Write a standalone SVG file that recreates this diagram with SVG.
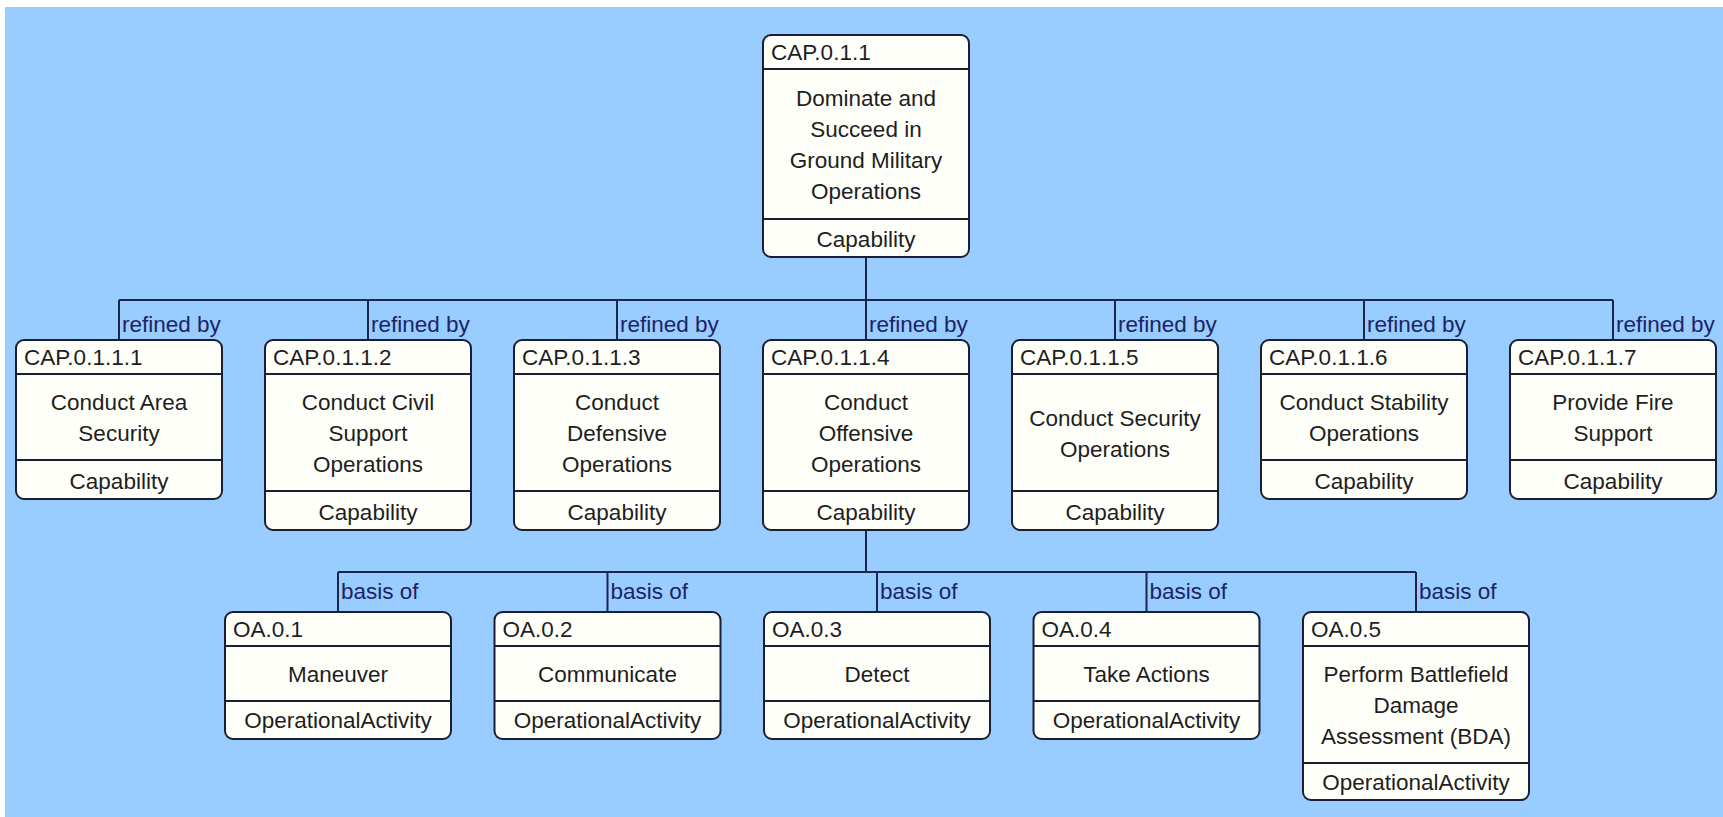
<svg xmlns="http://www.w3.org/2000/svg" width="1723" height="817" viewBox="0 0 1723 817">
<style>
.box{fill:#FFFFFA;stroke:#1a1f33;stroke-width:2}
.div{stroke:#1a1f33;stroke-width:2}
.t{font-family:"Liberation Sans",Arial,sans-serif;font-size:22.5px;fill:#1e1e1e}
.c{text-anchor:middle}
.lbl{font-family:"Liberation Sans",Arial,sans-serif;font-size:22.5px;fill:#1c2466}
.con{stroke:#1c2450;stroke-width:2;fill:none}
</style>
<rect x="0" y="0" width="1723" height="817" fill="#FFFFFF"/>
<rect x="5" y="7" width="1718" height="810" fill="#99CCFF"/>

<g id="connectors">
<path class="con" d="M866,257V300M119,300H1613M119,300V340M368,300V340M617,300V340M866,300V340M1115,300V340M1364,300V340M1613,300V340"/>
<path class="con" d="M866,530V572M338,572H1416M338,572V612M607.5,572V612M877,572V612M1146.5,572V612M1416,572V612"/>
<text class="lbl" x="122" y="332">refined by</text>
<text class="lbl" x="371" y="332">refined by</text>
<text class="lbl" x="620" y="332">refined by</text>
<text class="lbl" x="869" y="332">refined by</text>
<text class="lbl" x="1118" y="332">refined by</text>
<text class="lbl" x="1367" y="332">refined by</text>
<text class="lbl" x="1616" y="332">refined by</text>
<text class="lbl" x="341" y="599">basis of</text>
<text class="lbl" x="610.5" y="599">basis of</text>
<text class="lbl" x="880" y="599">basis of</text>
<text class="lbl" x="1149.5" y="599">basis of</text>
<text class="lbl" x="1419" y="599">basis of</text>
</g>

<g id="cap-0-1-1">
<rect class="box" x="763" y="35" width="206" height="222" rx="8"/>
<line class="div" x1="763" y1="69" x2="969" y2="69"/>
<line class="div" x1="763" y1="219" x2="969" y2="219"/>
<text class="t" x="771" y="60">CAP.0.1.1</text>
<text class="t c" x="866" y="106">Dominate and</text>
<text class="t c" x="866" y="137">Succeed in</text>
<text class="t c" x="866" y="168">Ground Military</text>
<text class="t c" x="866" y="199">Operations</text>
<text class="t c" x="866" y="247">Capability</text>
</g>

<g id="cap-0-1-1-1">
<rect class="box" x="16" y="340" width="206" height="159" rx="8"/>
<line class="div" x1="16" y1="374" x2="222" y2="374"/>
<line class="div" x1="16" y1="460" x2="222" y2="460"/>
<text class="t" x="24" y="365">CAP.0.1.1.1</text>
<text class="t c" x="119" y="410">Conduct Area</text>
<text class="t c" x="119" y="441">Security</text>
<text class="t c" x="119" y="489">Capability</text>
</g>

<g id="cap-0-1-1-2">
<rect class="box" x="265" y="340" width="206" height="190" rx="8"/>
<line class="div" x1="265" y1="374" x2="471" y2="374"/>
<line class="div" x1="265" y1="491" x2="471" y2="491"/>
<text class="t" x="273" y="365">CAP.0.1.1.2</text>
<text class="t c" x="368" y="410">Conduct Civil</text>
<text class="t c" x="368" y="441">Support</text>
<text class="t c" x="368" y="472">Operations</text>
<text class="t c" x="368" y="520">Capability</text>
</g>

<g id="cap-0-1-1-3">
<rect class="box" x="514" y="340" width="206" height="190" rx="8"/>
<line class="div" x1="514" y1="374" x2="720" y2="374"/>
<line class="div" x1="514" y1="491" x2="720" y2="491"/>
<text class="t" x="522" y="365">CAP.0.1.1.3</text>
<text class="t c" x="617" y="410">Conduct</text>
<text class="t c" x="617" y="441">Defensive</text>
<text class="t c" x="617" y="472">Operations</text>
<text class="t c" x="617" y="520">Capability</text>
</g>

<g id="cap-0-1-1-4">
<rect class="box" x="763" y="340" width="206" height="190" rx="8"/>
<line class="div" x1="763" y1="374" x2="969" y2="374"/>
<line class="div" x1="763" y1="491" x2="969" y2="491"/>
<text class="t" x="771" y="365">CAP.0.1.1.4</text>
<text class="t c" x="866" y="410">Conduct</text>
<text class="t c" x="866" y="441">Offensive</text>
<text class="t c" x="866" y="472">Operations</text>
<text class="t c" x="866" y="520">Capability</text>
</g>

<g id="cap-0-1-1-5">
<rect class="box" x="1012" y="340" width="206" height="190" rx="8"/>
<line class="div" x1="1012" y1="374" x2="1218" y2="374"/>
<line class="div" x1="1012" y1="491" x2="1218" y2="491"/>
<text class="t" x="1020" y="365">CAP.0.1.1.5</text>
<text class="t c" x="1115" y="426">Conduct Security</text>
<text class="t c" x="1115" y="457">Operations</text>
<text class="t c" x="1115" y="520">Capability</text>
</g>

<g id="cap-0-1-1-6">
<rect class="box" x="1261" y="340" width="206" height="159" rx="8"/>
<line class="div" x1="1261" y1="374" x2="1467" y2="374"/>
<line class="div" x1="1261" y1="460" x2="1467" y2="460"/>
<text class="t" x="1269" y="365">CAP.0.1.1.6</text>
<text class="t c" x="1364" y="410">Conduct Stability</text>
<text class="t c" x="1364" y="441">Operations</text>
<text class="t c" x="1364" y="489">Capability</text>
</g>

<g id="cap-0-1-1-7">
<rect class="box" x="1510" y="340" width="206" height="159" rx="8"/>
<line class="div" x1="1510" y1="374" x2="1716" y2="374"/>
<line class="div" x1="1510" y1="460" x2="1716" y2="460"/>
<text class="t" x="1518" y="365">CAP.0.1.1.7</text>
<text class="t c" x="1613" y="410">Provide Fire</text>
<text class="t c" x="1613" y="441">Support</text>
<text class="t c" x="1613" y="489">Capability</text>
</g>

<g id="oa-0-1">
<rect class="box" x="225" y="612" width="226" height="127" rx="8"/>
<line class="div" x1="225" y1="646" x2="451" y2="646"/>
<line class="div" x1="225" y1="701" x2="451" y2="701"/>
<text class="t" x="233" y="637">OA.0.1</text>
<text class="t c" x="338" y="682">Maneuver</text>
<text class="t c" x="338" y="728">OperationalActivity</text>
</g>

<g id="oa-0-2">
<rect class="box" x="494.5" y="612" width="226" height="127" rx="8"/>
<line class="div" x1="494.5" y1="646" x2="720.5" y2="646"/>
<line class="div" x1="494.5" y1="701" x2="720.5" y2="701"/>
<text class="t" x="502.5" y="637">OA.0.2</text>
<text class="t c" x="607.5" y="682">Communicate</text>
<text class="t c" x="607.5" y="728">OperationalActivity</text>
</g>

<g id="oa-0-3">
<rect class="box" x="764" y="612" width="226" height="127" rx="8"/>
<line class="div" x1="764" y1="646" x2="990" y2="646"/>
<line class="div" x1="764" y1="701" x2="990" y2="701"/>
<text class="t" x="772" y="637">OA.0.3</text>
<text class="t c" x="877" y="682">Detect</text>
<text class="t c" x="877" y="728">OperationalActivity</text>
</g>

<g id="oa-0-4">
<rect class="box" x="1033.5" y="612" width="226" height="127" rx="8"/>
<line class="div" x1="1033.5" y1="646" x2="1259.5" y2="646"/>
<line class="div" x1="1033.5" y1="701" x2="1259.5" y2="701"/>
<text class="t" x="1041.5" y="637">OA.0.4</text>
<text class="t c" x="1146.5" y="682">Take Actions</text>
<text class="t c" x="1146.5" y="728">OperationalActivity</text>
</g>

<g id="oa-0-5">
<rect class="box" x="1303" y="612" width="226" height="188" rx="8"/>
<line class="div" x1="1303" y1="646" x2="1529" y2="646"/>
<line class="div" x1="1303" y1="763" x2="1529" y2="763"/>
<text class="t" x="1311" y="637">OA.0.5</text>
<text class="t c" x="1416" y="682">Perform Battlefield</text>
<text class="t c" x="1416" y="713">Damage</text>
<text class="t c" x="1416" y="744">Assessment (BDA)</text>
<text class="t c" x="1416" y="790">OperationalActivity</text>
</g>
</svg>
